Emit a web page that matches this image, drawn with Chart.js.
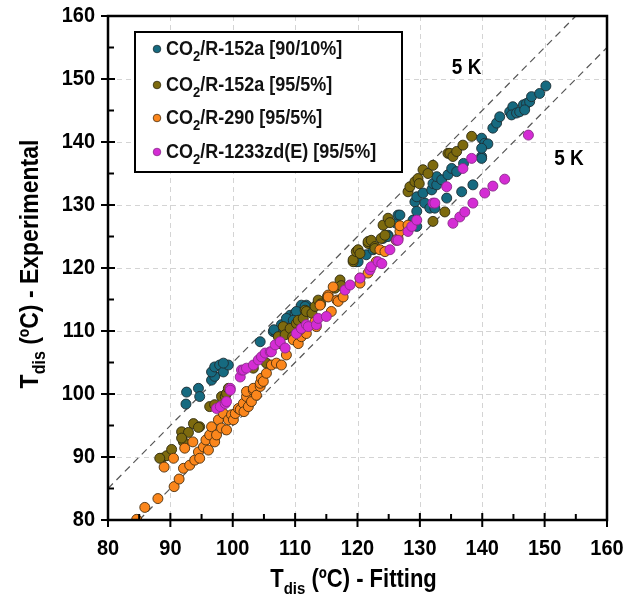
<!DOCTYPE html>
<html>
<head>
<meta charset="utf-8">
<script src="https://cdn.jsdelivr.net/npm/chart.js@4.4.1/dist/chart.umd.min.js"></script>
<style>
  html, body { margin: 0; padding: 0; background: #fff; }
  canvas { display: block; }
</style>
</head>
<body>
<canvas id="chart" width="637" height="603"></canvas>
<script>
// axis ticks
const xTicks = [80, 90, 100, 110, 120, 130, 140, 150, 160];
const yTicks = [80, 90, 100, 110, 120, 130, 140, 150, 160];
const minorTicks = [85, 95, 105, 115, 125, 135, 145, 155];

// CO2/R-152a [90/10%]
const r152a90Fit = [92.6,92.5,94.5,94.7,96.6,97.1,96.6,97.1,97.9,98.5,99.3,98.5,104.4,106.5,107.0,107.8,108.4,109.2,110.0,110.5,111.0,111.8,111.6,110.2,108.6,109.7,106.6,119.8,120.1,121.4,122.5,124.1,124.9,124.9,126.2,126.5,126.8,128.9,129.5,129.2,129.5,129.5,130.8,131.6,132.4,130.5,131.9,132.1,132.7,132.7,133.5,134.3,134.5,135.1,135.9,137.0,136.7,138.5,139.9,139.9,140.4,140.9,139.9,139.9,141.7,142.3,142.8,144.4,144.9,144.7,145.5,146.0,146.6,147.1,147.6,146.8,147.9,149.2,150.2];
const r152a90Exp = [100.3,98.4,100.9,99.6,102.2,102.8,103.5,104.3,104.6,103.5,104.6,104.9,108.3,109.9,109.6,111.0,110.6,112.5,112.8,112.3,114.1,114.1,113.9,113.1,112.0,111.7,110.2,121.0,121.0,122.1,122.9,124.7,125.2,125.0,127.1,128.4,128.4,127.6,126.6,130.5,129.0,131.3,130.3,129.5,129.5,131.9,132.4,133.4,133.2,134.5,134.0,131.1,134.8,135.8,135.3,136.6,132.1,133.2,137.7,140.6,139.8,139.7,139.0,137.4,142.2,143.0,144.0,144.8,145.6,144.3,144.6,144.8,145.9,146.1,146.4,145.1,147.2,147.7,148.9];

// CO2/R-152a [95/5%]
const r152a95Fit = [88.6,89.4,90.2,88.3,92.1,91.8,92.9,91.8,93.7,94.7,94.5,96.3,97.1,98.2,98.8,99.0,99.3,103.3,105.4,107.3,107.6,108.1,108.4,109.2,109.6,110.2,110.5,111.3,111.6,111.8,112.7,113.2,113.7,114.1,115.2,116.4,117.2,117.4,119.3,119.3,119.8,120.1,120.4,121.7,121.7,122.2,122.8,122.8,123.8,124.4,124.1,124.9,125.2,128.1,128.4,129.2,129.7,129.9,130.5,131.3,132.1,132.1,134.0,134.5,134.8,135.3,135.9,136.9,138.3];
const r152a95Exp = [89.8,90.2,91.2,89.8,92.4,94.0,93.9,93.0,95.3,94.8,94.7,98.0,98.3,99.6,99.6,100.1,100.9,104.1,104.9,109.1,108.0,110.7,109.4,110.4,109.1,111.2,111.7,112.0,113.3,113.1,112.8,113.9,114.9,114.3,115.5,116.8,118.1,117.2,121.0,121.3,122.6,122.9,122.3,123.9,124.2,124.4,123.4,123.1,124.7,125.2,126.8,127.9,127.2,132.1,132.9,133.7,134.2,133.4,135.6,135.0,136.3,127.4,128.9,138.2,138.2,137.7,138.5,139.5,140.9];

// CO2/R-290 [95/5%]
const r290Fit = [84.6,85.9,88.0,90.6,91.4,92.1,89.0,90.5,92.3,93.1,93.6,93.9,94.5,94.7,95.3,95.7,96.1,96.3,96.6,97.1,97.4,97.7,98.2,98.5,99.0,99.3,99.8,100.1,100.4,100.9,101.2,101.7,101.8,102.2,102.2,102.5,103.0,103.3,103.3,103.8,104.4,104.4,104.6,104.9,105.4,106.2,107.0,107.8,108.6,109.7,110.5,111.0,111.8,110.8,113.2,113.4,114.0,115.3,115.3,115.8,116.1,116.7,116.9,117.7,120.4,120.4,121.7,123.0,123.6,124.4,126.2,126.5,126.8,126.8,128.1];
const r290Exp = [80.1,82.0,83.4,85.3,86.5,88.2,88.4,89.8,91.4,88.7,92.4,89.5,90.8,89.8,91.6,92.7,91.1,93.5,94.8,92.4,93.5,95.9,94.6,96.9,94.3,95.9,96.7,95.9,96.9,97.7,97.5,98.5,97.2,99.6,100.4,98.0,98.8,100.6,100.9,99.8,101.2,101.7,102.5,102.0,103.3,104.6,104.9,104.6,106.2,108.6,108.0,109.1,109.6,110.2,111.5,110.7,114.1,115.7,115.4,113.1,117.0,114.9,114.7,115.4,118.4,117.6,119.2,121.0,122.9,122.6,124.4,124.7,125.8,126.7,126.8];

// CO2/R-1233zd(E) [95/5%]
const r1233Fit = [97.4,98.0,98.8,99.0,99.6,99.6,101.2,101.4,101.7,102.2,103.3,104.1,104.6,105.2,106.0,106.2,106.8,107.6,108.4,110.2,111.0,111.8,112.1,113.4,113.7,115.0,118.0,118.8,120.4,122.0,122.2,123.3,123.9,125.2,126.3,126.5,128.1,128.7,129.5,132.1,132.4,134.3,136.9,138.3,135.3,136.4,137.2,138.5,140.4,141.7,143.6,147.4];
const r1233Exp = [97.7,98.0,98.5,98.8,100.9,100.6,102.7,103.8,103.8,104.1,104.6,105.4,105.9,106.5,106.7,106.7,107.8,108.3,107.3,109.6,110.4,111.0,110.7,111.0,112.0,112.3,116.5,117.3,118.4,119.7,120.2,121.0,120.7,122.9,124.4,124.4,125.8,126.6,127.6,130.3,130.3,132.9,135.8,137.4,127.1,128.1,128.9,130.3,131.9,133.0,134.1,141.1];

// +/- 5 K bands
const upperBandX = [80, 155];
const upperBandY = [85, 160];
const lowerBandX = [85, 160];
const lowerBandY = [80, 155];

const FONT = '"Liberation Sans", Arial, sans-serif';
const STRETCH = 1.14; // the original lettering is a bit taller than plain Arial

const pts = (xs, ys) => xs.map((x, i) => ({ x: x, y: ys[i] }));

const series = [
    { label: [["CO", 0], ["2", 1], ["/R-152a [90/10%]", 0]], color: "#166a80", border: "#1e2e33", fit: r152a90Fit, exp: r152a90Exp },
    { label: [["CO", 0], ["2", 1], ["/R-152a [95/5%]", 0]], color: "#7d6a0e", border: "#2e2a10", fit: r152a95Fit, exp: r152a95Exp },
    { label: [["CO", 0], ["2", 1], ["/R-290 [95/5%]", 0]], color: "#fb861c", border: "#4a3010", fit: r290Fit, exp: r290Exp },
    { label: [["CO", 0], ["2", 1], ["/R-1233zd(E) [95/5%]", 0]], color: "#d42cd4", border: "#8a2a8a", fit: r1233Fit, exp: r1233Exp },
];

// plain text, stretched vertically around its anchor
function drawText(ctx, text, x, y, size, align) {
    ctx.save();
    ctx.translate(x, y);
    ctx.scale(1, STRETCH);
    ctx.font = "bold " + size + "px " + FONT;
    ctx.textAlign = align;
    ctx.textBaseline = "middle";
    ctx.fillText(text, 0, 0);
    ctx.restore();
}

// text with subscripts, y is the baseline
function drawRich(ctx, parts, x, y, size, align) {
    const mainFont = "bold " + size + "px " + FONT;
    const subFont = "bold " + Math.round(size * 0.7) + "px " + FONT;
    let w = 0;
    parts.forEach(([t, s]) => {
        ctx.font = s ? subFont : mainFont;
        w += ctx.measureText(t).width;
    });
    ctx.save();
    ctx.translate(x, y);
    ctx.scale(1, STRETCH);
    let cx = align === "center" ? -w / 2 : 0;
    ctx.textAlign = "left";
    ctx.textBaseline = "alphabetic";
    parts.forEach(([t, s]) => {
        ctx.font = s ? subFont : mainFont;
        ctx.fillText(t, cx, s ? size * 0.28 : 0);
        cx += ctx.measureText(t).width;
    });
    ctx.restore();
}

const framePlugin = {
    id: "frame",
    beforeDatasetsDraw(chart) {
        const { ctx, chartArea: a, scales: { x, y } } = chart;
        ctx.save();
        ctx.strokeStyle = "#d4d4d4";
        ctx.lineWidth = 1;
        ctx.setLineDash([5, 4]);
        xTicks.forEach((v) => {
            const px = Math.round(x.getPixelForValue(v)) + 0.5;
            ctx.beginPath(); ctx.moveTo(px, a.top); ctx.lineTo(px, a.bottom); ctx.stroke();
        });
        yTicks.forEach((v) => {
            const py = Math.round(y.getPixelForValue(v)) + 0.5;
            ctx.beginPath(); ctx.moveTo(a.left, py); ctx.lineTo(a.right, py); ctx.stroke();
        });
        ctx.restore();
    },
    afterDatasetsDraw(chart) {
        const { ctx, chartArea: a, scales: { x, y } } = chart;
        ctx.save();
        ctx.fillStyle = "#000";
        ctx.strokeStyle = "#000";
        ctx.setLineDash([]);

        // frame
        ctx.lineWidth = 2.5;
        ctx.strokeRect(a.left, a.top, a.right - a.left, a.bottom - a.top);

        // ticks
        ctx.lineWidth = 2;
        xTicks.forEach((v) => {
            const px = x.getPixelForValue(v);
            ctx.beginPath(); ctx.moveTo(px, a.bottom - 7); ctx.lineTo(px, a.bottom + 7); ctx.stroke();
        });
        yTicks.forEach((v) => {
            const py = y.getPixelForValue(v);
            ctx.beginPath(); ctx.moveTo(a.left - 7, py); ctx.lineTo(a.left + 7, py); ctx.stroke();
        });
        minorTicks.forEach((v) => {
            const px = x.getPixelForValue(v);
            ctx.beginPath(); ctx.moveTo(px, a.bottom - 6); ctx.lineTo(px, a.bottom); ctx.stroke();
            const py = y.getPixelForValue(v);
            ctx.beginPath(); ctx.moveTo(a.left, py); ctx.lineTo(a.left + 6, py); ctx.stroke();
        });

        // tick labels
        xTicks.forEach((v) => drawText(ctx, String(v), x.getPixelForValue(v), a.bottom + 29, 20, "center"));
        yTicks.forEach((v) => drawText(ctx, String(v), a.left - 13, y.getPixelForValue(v), 20, "right"));

        // axis titles
        drawRich(ctx, [["T", 0], ["dis", 1], [" (ºC) - Fitting", 0]], (a.left + a.right) / 2 - 4, 587, 22, "center");
        ctx.save();
        ctx.translate(38, (a.top + a.bottom) / 2 - 4);
        ctx.rotate(-Math.PI / 2);
        drawRich(ctx, [["T", 0], ["dis", 1], [" (ºC) - Experimental", 0]], 0, 0, 23, "center");
        ctx.restore();

        // 5 K labels
        drawText(ctx, "5 K", x.getPixelForValue(137.5), y.getPixelForValue(151.7), 19, "center");
        drawText(ctx, "5 K", x.getPixelForValue(153.9), y.getPixelForValue(137.3), 19, "center");

        // legend
        ctx.lineWidth = 2;
        ctx.fillStyle = "#fff";
        ctx.fillRect(135, 32, 267, 140);
        ctx.strokeRect(135, 32, 267, 140);
        const rows = [49, 85, 118, 152];
        series.forEach((s, i) => {
            ctx.beginPath();
            ctx.arc(157, rows[i], 3.8, 0, Math.PI * 2);
            ctx.fillStyle = s.color;
            ctx.fill();
            ctx.lineWidth = 0.8;
            ctx.strokeStyle = s.border;
            ctx.stroke();
            ctx.fillStyle = "#111";
            drawRich(ctx, s.label, 166, rows[i] + 6, 18, "left");
        });
        ctx.restore();
    },
};

const datasets = series.map((s, i) => ({
    type: "scatter",
    label: s.label.map((p) => p[0]).join(""),
    data: pts(s.fit, s.exp),
    backgroundColor: s.color,
    borderColor: s.border,
    borderWidth: 0.9,
    pointRadius: 5,
    order: 4 - i,
}));

[[upperBandX, upperBandY], [lowerBandX, lowerBandY]].forEach(([bx, by]) => {
    datasets.push({
        type: "line",
        data: pts(bx, by),
        borderColor: "#555",
        borderWidth: 1.2,
        borderDash: [7, 5],
        pointRadius: 0,
        fill: false,
        order: 10,
    });
});

new Chart(document.getElementById("chart"), {
    type: "scatter",
    data: { datasets },
    options: {
        responsive: false,
        animation: false,
        devicePixelRatio: 1,
        layout: { padding: { left: 108, right: 30, top: 16, bottom: 83 } },
        plugins: { legend: { display: false }, tooltip: { enabled: false } },
        scales: {
            x: { type: "linear", min: 80, max: 160, display: false },
            y: { type: "linear", min: 80, max: 160, display: false },
        },
    },
    plugins: [framePlugin],
});
</script>
</body>
</html>
